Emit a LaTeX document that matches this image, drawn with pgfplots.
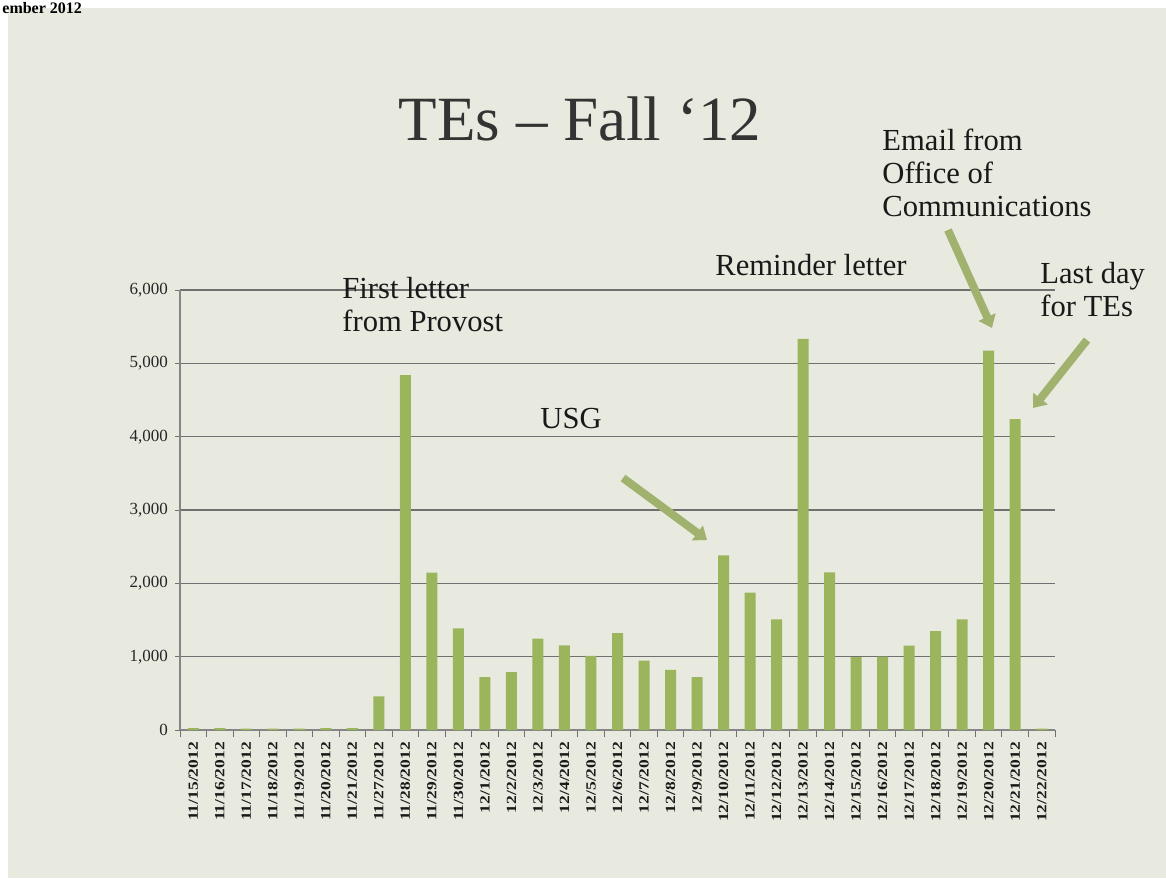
\documentclass[border=0pt]{standalone}
\usepackage{fontspec}
\setmainfont{Liberation Serif}
\usepackage{pgfplots}
\pgfplotsset{compat=1.18}
\usetikzlibrary{arrows.meta}
\definecolor{bg}{RGB}{232,233,223}
\definecolor{barc}{RGB}{155,181,92}
\definecolor{arr}{RGB}{160,178,110}
\definecolor{gridc}{RGB}{112,112,112}
\newcommand\xl[1]{\scalebox{1.25}[1]{#1}}
\begin{document}
\begin{tikzpicture}
\useasboundingbox (0,0) rectangle (583pt,-439pt);
\fill[white] (0,0) rectangle (583pt,-439pt);
\fill[bg] (4pt,-4pt) rectangle (583pt,-439pt);
\begin{axis}[
  at={(90pt,-365pt)}, anchor=south west,
  scale only axis, width=437.5pt, height=220pt,
  xmin=-0.5, xmax=32.5, ymin=0, ymax=6000,
  axis x line*=bottom, axis y line*=left,
  axis line style={draw=gridc!85, line width=0.6pt, -},
  ybar, bar width=5.5pt,
  xtick={0,...,32},
  xticklabels={\xl{11/15/2012},\xl{11/16/2012},\xl{11/17/2012},\xl{11/18/2012},\xl{11/19/2012},\xl{11/20/2012},\xl{11/21/2012},\xl{11/27/2012},\xl{11/28/2012},\xl{11/29/2012},\xl{11/30/2012},\xl{12/1/2012},\xl{12/2/2012},\xl{12/3/2012},\xl{12/4/2012},\xl{12/5/2012},\xl{12/6/2012},\xl{12/7/2012},\xl{12/8/2012},\xl{12/9/2012},\xl{12/10/2012},\xl{12/11/2012},\xl{12/12/2012},\xl{12/13/2012},\xl{12/14/2012},\xl{12/15/2012},\xl{12/16/2012},\xl{12/17/2012},\xl{12/18/2012},\xl{12/19/2012},\xl{12/20/2012},\xl{12/21/2012},\xl{12/22/2012}},
  major x tick style={draw=none},
  minor xtick={-0.5,0.5,...,32.5},
  minor x tick style={draw=gridc, line width=0.5pt},
  minor tick length=3.5pt, major tick length=2.5pt,
  tick align=outside,
  y tick style={draw=gridc, line width=0.5pt},
  ytick={0,1000,...,6000},
  ymajorgrids,
  major grid style={draw=gridc, line width=0.7pt},
  /pgf/number format/assume math mode=true,
  /pgf/number format/1000 sep={,},
  yticklabel style={font=\fontsize{8.5}{9}\selectfont, text=black!85},
  xticklabel style={rotate=90, anchor=east, font=\bfseries\fontsize{7}{8}\selectfont, text=black!90},
]
\addplot[fill=barc, draw=none] coordinates {
(0,25) (1,25) (2,20) (3,20) (4,20) (5,25) (6,25) (7,460) (8,4840) (9,2145)
(10,1385) (11,720) (12,790) (13,1245) (14,1155) (15,1010) (16,1320) (17,945) (18,820) (19,720)
(20,2380) (21,1875) (22,1510) (23,5335) (24,2150) (25,995) (26,1000) (27,1150) (28,1350) (29,1510)
(30,5175) (31,4240) (32,20)
};
\end{axis}
\begin{scope}[x=0.5pt, y=-0.5pt]
\node[anchor=base west, inner sep=0, font=\bfseries\fontsize{8}{9}\selectfont] at (2,13) {ember 2012};
\node[anchor=base, inner sep=0, font=\fontsize{31.5}{36}\selectfont, text=black!80] at (580,140) {TEs – Fall ‘12};
\begin{scope}[every node/.style={inner sep=0, font=\fontsize{15.3}{16.5}\selectfont, text=black!90}]
\node[anchor=north west, align=left] at (342,277) {First letter\\from Provost};
\node[anchor=base west] at (715,275) {Reminder letter};
\node[anchor=base west] at (540,428) {USG};
\node[anchor=north west, align=left] at (882,129) {Email from\\Office of\\Communications};
\node[anchor=north west, align=left] at (1040,262) {Last day\\for TEs};
\end{scope}
\begin{scope}[arr, line width=4pt, -{Triangle[width=9pt,length=6pt]}]
\draw (623,478) -- (707,540);
\draw (948,230) -- (992,328);
\draw (1087,340) -- (1033,408);
\end{scope}
\end{scope}
\end{tikzpicture}
\end{document}
